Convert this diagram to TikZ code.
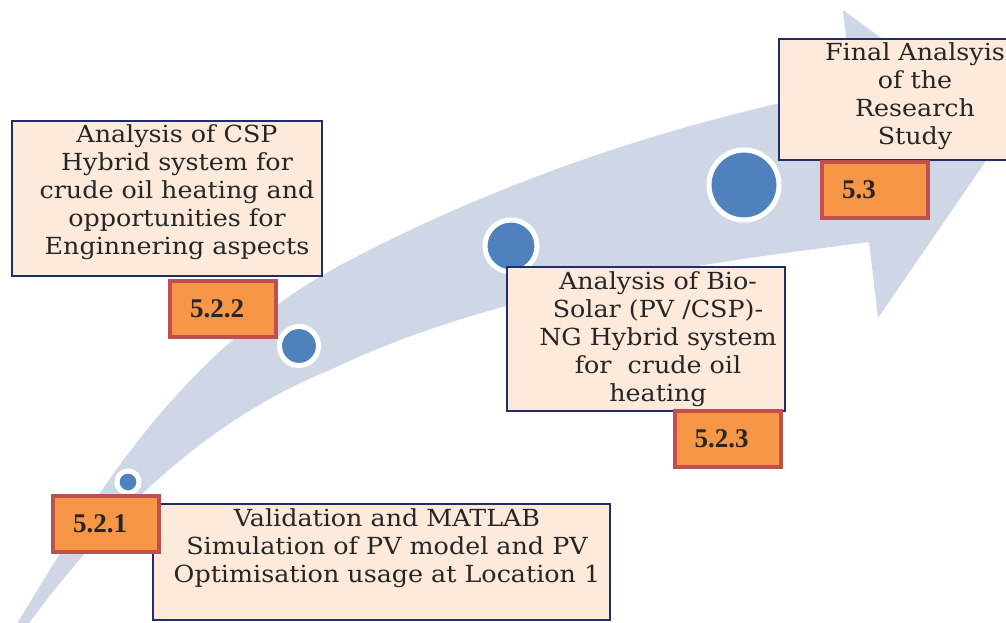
\documentclass[tikz,border=0pt]{standalone}
\usepackage{fontspec}
\setmainfont{DejaVu Serif}[FakeStretch=1.08]
\newfontfamily\numfont{Liberation Serif}
\definecolor{bandgrey}{RGB}{207,214,229}
\definecolor{dotblue}{RGB}{79,129,189}
\definecolor{boxpeach}{RGB}{253,234,218}
\definecolor{boxnavy}{RGB}{31,45,107}
\definecolor{numorange}{RGB}{247,150,70}
\definecolor{numred}{RGB}{192,80,77}
\definecolor{inkgrey}{RGB}{38,38,38}
\begin{document}
\begin{tikzpicture}[x=1pt,y=-1pt,
    descbox/.style={rectangle,fill=boxpeach,draw=boxnavy,line width=1.5pt,inner sep=0pt},
    desctext/.style={align=center,inner sep=0pt,text=inkgrey,font=\fontsize{23.5}{28}\selectfont},
    numbox/.style={rectangle,fill=numorange,draw=numred,line width=4pt,minimum width=106pt,
      minimum height=56pt,inner xsep=20pt,text width=66pt,align=left,text=inkgrey,
      font=\numfont\bfseries\fontsize{27}{28}\selectfont},
    dot/.style={circle,fill=dotblue,draw=white,line width=5pt,inner sep=0pt}]
  \useasboundingbox (0,0) rectangle (1006,622);
  \clip (0,0) rectangle (1006,622);
  % curved arrow
  \fill[bandgrey] (-4,660) -- (18,622)
    .. controls (101,485) and (186,345) .. (350,260)
    .. controls (507,178) and (678,121) .. (852,88)
    -- (843,10) -- (1007,130) -- (878,318) -- (869,242)
    .. controls (689,265) and (495,291) .. (330,370)
    .. controls (205,420) and (105,520) .. (30,622) -- cycle;
  % milestones
  \node[dot,minimum size=22pt] (d1) at (128,482) {};
  \node[dot,minimum size=39pt] (d2) at (299,346) {};
  \node[dot,minimum size=52pt] (d3) at (511,246) {};
  \node[dot,minimum size=70pt] (d4) at (744,185) {};
  % text boxes
  \node[descbox,minimum width=310pt,minimum height=155pt] (csp) at (167,198.5) {};
  \node[desctext] (csptext) at (177,192.5) {Analysis of CSP\\Hybrid system for\\crude oil heating and\\opportunities for\\Enginnering aspects};
  \node[descbox,minimum width=278pt,minimum height=144pt] (bio) at (646,339) {};
  \node[desctext] (biotext) at (658,339) {Analysis of Bio-\\Solar (PV /CSP)-\\NG Hybrid system\\for~ crude oil\\heating};
  \node[descbox,minimum width=272pt,minimum height=121pt] (final) at (915,99.5) {};
  \node[desctext] (finaltext) at (915,96) {Final Analsyis\\of the\\Research\\Study};
  \node[descbox,minimum width=457pt,minimum height=116pt] (pv) at (381.5,562) {};
  \node[desctext] (pvtext) at (387,548.5) {Validation and MATLAB\\Simulation of PV model and PV\\Optimisation usage at Location 1};
  % section numbers
  \node[numbox] (n521) at (106,523.5) {5.2.1};
  \node[numbox] (n522) at (223,308.5) {5.2.2};
  \node[numbox] (n523) at (727.5,439) {5.2.3};
  \node[numbox] (n53) at (875,190) {5.3};
\end{tikzpicture}
\end{document}
